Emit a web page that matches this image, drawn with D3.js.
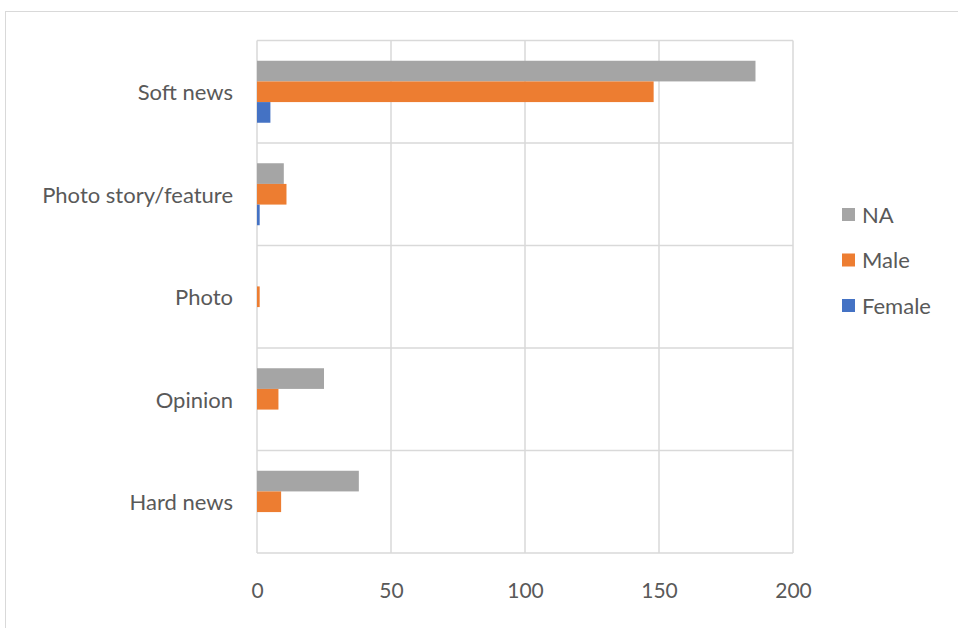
<!DOCTYPE html>
<html><head><meta charset="utf-8">
<script src="https://cdn.jsdelivr.net/npm/d3@7"></script>
<style>body{margin:0;background:#fff;} svg{display:block;}</style>
</head><body>
<svg id="c" width="958" height="628"></svg>
<script>
const categories = ["Soft news", "Photo story/feature", "Photo", "Opinion", "Hard news"];
const seriesNames = ["NA", "Male", "Female"];
const naValues = [186, 10, 0, 25, 38];
const maleValues = [148, 11, 1, 8, 9];
const femaleValues = [5, 1, 0, 0, 0];
const xTicks = [0, 50, 100, 150, 200];
const colors = ["#a5a5a5", "#ed7d31", "#4472c4"];
const seriesValues = [naValues, maleValues, femaleValues];

(function(){
const svg = d3.select("#c");
const font = "Lato, 'Open Sans', sans-serif";
svg.append("rect").attr("x", 5.5).attr("y", 11.5).attr("width", 1000).attr("height", 700)
  .attr("fill", "none").attr("stroke", "#d9d9d9").attr("stroke-width", 1);

const pLeft = 257, pRight = 793, pTop = 40.5, pBottom = 553;
const x = d3.scaleLinear().domain([0, 200]).range([pLeft, pRight]);
const y = d3.scaleBand().domain(categories).range([pTop, pBottom]).paddingInner(0).paddingOuter(0);
const inner = d3.scaleBand().domain(seriesNames).range([0, y.bandwidth()]).paddingInner(0).paddingOuter(0.98);

const g = svg.append("g");
g.selectAll("line.v").data(xTicks).join("line")
  .attr("x1", d => x(d)).attr("x2", d => x(d)).attr("y1", pTop).attr("y2", pBottom)
  .attr("stroke", "#d9d9d9").attr("stroke-width", 1.5);
const hLines = categories.map(c => y(c)).concat([pBottom]);
g.selectAll("line.h").data(hLines).join("line")
  .attr("x1", pLeft).attr("x2", pRight).attr("y1", d => d).attr("y2", d => d)
  .attr("stroke", "#d9d9d9").attr("stroke-width", 1.5);

seriesNames.forEach((s, si) => {
  g.selectAll("rect.s" + si).data(categories).join("rect")
    .attr("class", "s" + si)
    .attr("x", x(0)).attr("y", c => y(c) + inner(s))
    .attr("width", (c, i) => x(seriesValues[si][i]) - x(0))
    .attr("height", inner.bandwidth())
    .attr("fill", colors[si]);
});

g.selectAll("text.cat").data(categories).join("text")
  .attr("class", "cat")
  .attr("x", 233).attr("y", c => y(c) + y.bandwidth() / 2)
  .attr("text-anchor", "end").attr("dominant-baseline", "central")
  .attr("font-family", font).attr("font-size", 22).attr("fill", "#595959").text(c => c);

const xAxis = d3.axisBottom(x).tickValues(xTicks).tickSize(0).tickPadding(0);
const ax = svg.append("g").attr("transform", `translate(0,${pBottom + 30})`).call(xAxis);
ax.select(".domain").remove();
ax.selectAll("text").attr("font-family", font).attr("font-size", 21).attr("fill", "#595959");

const leg = svg.append("g");
seriesNames.forEach((s, i) => {
  const ly = 214 + i * 45.5;
  leg.append("rect").attr("x", 842).attr("y", ly - 6).attr("width", 13).attr("height", 13).attr("fill", colors[i]);
  leg.append("text").attr("x", 862).attr("y", ly).attr("dominant-baseline", "central")
    .attr("font-family", font).attr("font-size", 22).attr("fill", "#595959").text(s);
});
})();
</script>
</body></html>
